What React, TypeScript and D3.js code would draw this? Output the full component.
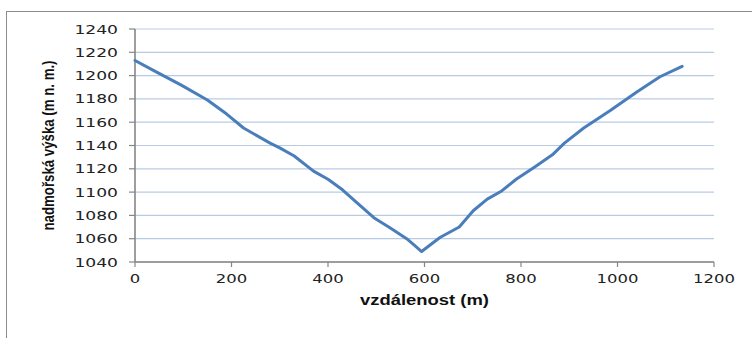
import React from "react";
import * as d3 from "d3";

const distances = [0, 40, 95, 150, 190, 225, 280, 300, 330, 370, 400, 430, 465, 495, 530, 563, 580, 594, 632, 672, 701, 730, 760, 790, 830, 865, 890, 930, 985, 1040, 1088, 1134];
const elevations = [1213, 1204, 1192, 1179, 1167, 1155, 1142, 1138, 1131, 1118, 1111, 1102, 1089, 1078, 1069, 1060, 1054, 1049, 1061, 1070, 1084, 1094, 1101, 1111, 1122, 1132, 1142, 1155, 1170, 1186, 1199, 1208];
const xTicks = [0, 200, 400, 600, 800, 1000, 1200];
const yTicks = [1040, 1060, 1080, 1100, 1120, 1140, 1160, 1180, 1200, 1220, 1240];
const xTitle = "vzdálenost (m)";
const yTitle = "nadmořská výška (m n. m.)";

const W = 752;
const H = 338;
const margin = { left: 135, right: 38, top: 29, bottom: 76 };
const DIGIT_W = 10.9;

export default function App() {
  const x = d3.scaleLinear().domain([0, 1200]).range([margin.left, W - margin.right]);
  const y = d3.scaleLinear().domain([1040, 1240]).range([H - margin.bottom, margin.top]);
  const pts = distances.map((d, i) => [d, elevations[i]] as [number, number]);
  const line = d3.line<[number, number]>().x((d) => x(d[0])).y((d) => y(d[1]));
  const x0 = x(0), x1 = x(1200), yb = y(1040), yt = y(1240);
  const tickFont = "'DejaVu Sans', Verdana, sans-serif";
  return (
    <svg width={W} height={H} style={{ position: "absolute", left: 0, top: 0, background: "#fff" }}>
      <rect x={6.5} y={11.5} width={W + 10} height={H + 10} fill="#fff" stroke="#8c8c8c" strokeWidth={1} />
      {yTicks.map((t) => (
        <line key={"g" + t} x1={x0} x2={x1} y1={y(t)} y2={y(t)} stroke="#b9cbe4" strokeWidth={1.2} />
      ))}
      <line x1={x0} x2={x0} y1={yt} y2={yb} stroke="#868686" strokeWidth={1.6} />
      <line x1={x0} x2={x1} y1={yb} y2={yb} stroke="#868686" strokeWidth={1.6} />
      {yTicks.map((t) => (
        <line key={"yt" + t} x1={x0 - 6} x2={x0} y1={y(t)} y2={y(t)} stroke="#868686" strokeWidth={1.2} />
      ))}
      {xTicks.map((t) => (
        <line key={"xt" + t} x1={x(t)} x2={x(t)} y1={yb} y2={yb + 5} stroke="#868686" strokeWidth={1.2} />
      ))}
      {yTicks.map((t) => {
        const s = String(t);
        return (
          <text key={"yl" + t} x={118} y={y(t) + 4.5} textAnchor="end" fontFamily={tickFont} fontSize={12}
            fill="#222" textLength={s.length * DIGIT_W} lengthAdjust="spacingAndGlyphs">{s}</text>
        );
      })}
      {xTicks.map((t) => {
        const s = String(t);
        return (
          <text key={"xl" + t} x={x(t)} y={283} textAnchor="middle" fontFamily={tickFont} fontSize={12}
            fill="#222" textLength={s.length * DIGIT_W * 0.96} lengthAdjust="spacingAndGlyphs">{s}</text>
        );
      })}
      <path d={line(pts) || ""} fill="none" stroke="#4a7ebb" strokeWidth={3} strokeLinejoin="round" strokeLinecap="round" />
      <text x={(x0 + x1) / 2} y={305} textAnchor="middle" fontFamily="'Liberation Sans', Arial, sans-serif" fontWeight="bold"
        fontSize={14} fill="#111" textLength={129} lengthAdjust="spacingAndGlyphs">{xTitle}</text>
      <text transform={`translate(54,${(yt + yb) / 2}) rotate(-90)`} textAnchor="middle" fontFamily="'Liberation Sans', Arial, sans-serif"
        fontWeight="bold" fontSize={16} fill="#111" textLength={170} lengthAdjust="spacingAndGlyphs">{yTitle}</text>
    </svg>
  );
}
